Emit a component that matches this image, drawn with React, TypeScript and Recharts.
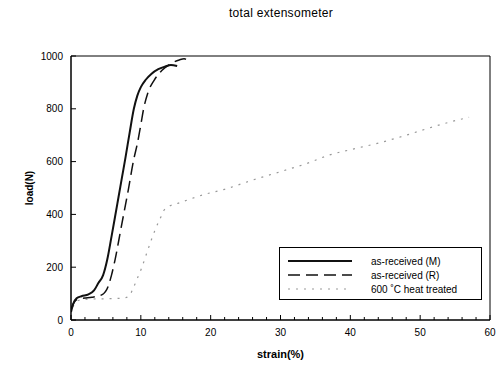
import React from "react";
import { Line, LineChart, ReferenceArea, XAxis, YAxis } from "recharts";

const mStrain = [0, 0.3, 0.8, 1.5, 2.5, 3.3, 3.9, 4.6, 5.2, 5.8, 6.3, 6.8, 7.3, 7.8, 8.4, 9.0, 9.5, 10, 10.7, 11.5, 12.5, 13.5, 14.3, 15.2];
const mLoad = [30, 60, 82, 90, 97, 112, 139, 170, 230, 316, 390, 465, 540, 615, 710, 800, 850, 882, 910, 932, 950, 960, 966, 962];

const rStrain = [0, 0.4, 1.0, 2, 3, 4.4, 5.3, 5.8, 6.3, 7.2, 8.2, 9, 9.5, 10, 10.4, 11, 11.9, 13, 14.3, 15.5, 16.2, 16.9];
const rLoad = [40, 65, 80, 83, 86, 95, 126, 170, 227, 353, 492, 610, 668, 740, 800, 860, 908, 945, 971, 985, 990, 977];

const hStrain = [0, 0.3, 0.7, 1.2, 2, 4, 6, 7.5, 8.3, 8.9, 9.5, 10.1, 10.8, 11.5, 12.1, 12.7, 13.3, 14, 15.3, 16.6, 19, 22, 26, 30, 34, 37, 40, 44, 48, 51, 54, 57];
const hLoad = [20, 50, 68, 75, 78, 80, 81, 83, 90, 120, 158, 196, 250, 303, 345, 380, 415, 430, 442, 454, 475, 495, 530, 562, 595, 625, 645, 670, 700, 725, 748, 768];

const xTicks = [0, 2, 4, 6, 8, 10, 12, 14, 16, 18, 20, 22, 24, 26, 28, 30, 32, 34, 36, 38, 40, 42, 44, 46, 48, 50, 52, 54, 56, 58, 60];
const yTicks = [0, 200, 400, 600, 800, 1000];

const seriesNames = ["as-received (M)", "as-received (R)", "600 \u02daC heat treated"];

const toPoints = (xs: number[], ys: number[]) => xs.map((x, i) => ({ x, y: ys[i] }));

const font = "'Liberation Sans', Arial, sans-serif";

const XTick = (props: any) => {
  const { x, y, payload } = props;
  const major = payload.value % 10 === 0;
  return (
    <g>
      <line x1={x} x2={x} y1={y} y2={y - (major ? 5 : 3)} stroke="#000" />
      {major && (
        <text x={x} y={y + 16} textAnchor="middle" fontSize={10} fontFamily={font} fill="#000">
          {payload.value}
        </text>
      )}
    </g>
  );
};

const YTick = (props: any) => {
  const { x, y, payload } = props;
  return (
    <g>
      <line x1={x} x2={x + 5} y1={y} y2={y} stroke="#000" />
      <text x={x - 8} y={y + 3.5} textAnchor="end" fontSize={10} fontFamily={font} fill="#000">
        {payload.value}
      </text>
    </g>
  );
};

// legend drawn on top of the plot, like the scanned figure
const LegendBox = () => (
  <div
    style={{
      position: "absolute",
      left: 279,
      top: 247,
      border: "1px solid #000",
      width: 203,
      height: 53,
      background: "#fff",
      boxSizing: "border-box",
    }}
  >
    <svg width={201} height={51} style={{ display: "block" }}>
      <line x1={8} x2={72} y1={13} y2={13} stroke="#111" strokeWidth={2} />
      <line x1={8} x2={72} y1={27} y2={27} stroke="#111" strokeWidth={1.5} strokeDasharray="12 6" />
      <line x1={8} x2={72} y1={41} y2={41} stroke="#999" strokeWidth={1.2} strokeDasharray="2 6" />
      {seriesNames.map((n, i) => (
        <text key={n} x={91} y={16.5 + i * 14} fontSize={10} fontFamily={font} fill="#000">
          {n}
        </text>
      ))}
    </svg>
  </div>
);

export default function App() {
  return (
    <div style={{ position: "absolute", left: 0, top: 0, width: 500, height: 365, background: "#fff" }}>
      <div
        style={{
          position: "absolute",
          left: 0,
          width: 562,
          top: 6,
          textAlign: "center",
          fontFamily: font,
          fontSize: 12,
          letterSpacing: 0.3,
        }}
      >
        total extensometer
      </div>
      <LineChart width={500} height={365} margin={{ top: 56, right: 10, bottom: 0, left: 0 }}>
        <XAxis
          type="number"
          dataKey="x"
          domain={[0, 60]}
          ticks={xTicks}
          interval={0}
          tickSize={0}
          tickMargin={0}
          tick={<XTick />}
          height={45}
          stroke="#000"
          allowDataOverflow
          label={{
            value: "strain(%)",
            position: "insideBottom",
            offset: 7,
            style: { fontFamily: font, fontSize: 11, fontWeight: "bold", fill: "#000" },
          }}
        />
        <YAxis
          type="number"
          dataKey="y"
          domain={[0, 1000]}
          ticks={yTicks}
          interval={0}
          tickSize={0}
          tickMargin={0}
          tick={<YTick />}
          width={71}
          stroke="#000"
          allowDataOverflow
          label={{
            value: "load(N)",
            angle: -90,
            position: "insideLeft",
            offset: 29,
            style: { fontFamily: font, fontSize: 10, fontWeight: "bold", fill: "#000", textAnchor: "middle" },
          }}
        />
        <ReferenceArea x1={0} x2={60} y1={0} y2={1000} fill="none" stroke="#000" strokeWidth={1} />
        <Line
          data={toPoints(hStrain, hLoad)}
          dataKey="y"
          type="monotone"
          stroke="#999"
          strokeWidth={1.2}
          strokeDasharray="2 6"
          dot={false}
          isAnimationActive={false}
        />
        <Line
          data={toPoints(rStrain, rLoad)}
          dataKey="y"
          type="monotone"
          stroke="#111"
          strokeWidth={1.5}
          strokeDasharray="12 6"
          dot={false}
          isAnimationActive={false}
        />
        <Line
          data={toPoints(mStrain, mLoad)}
          dataKey="y"
          type="monotone"
          stroke="#111"
          strokeWidth={2}
          dot={false}
          isAnimationActive={false}
        />
      </LineChart>
      <LegendBox />
    </div>
  );
}
